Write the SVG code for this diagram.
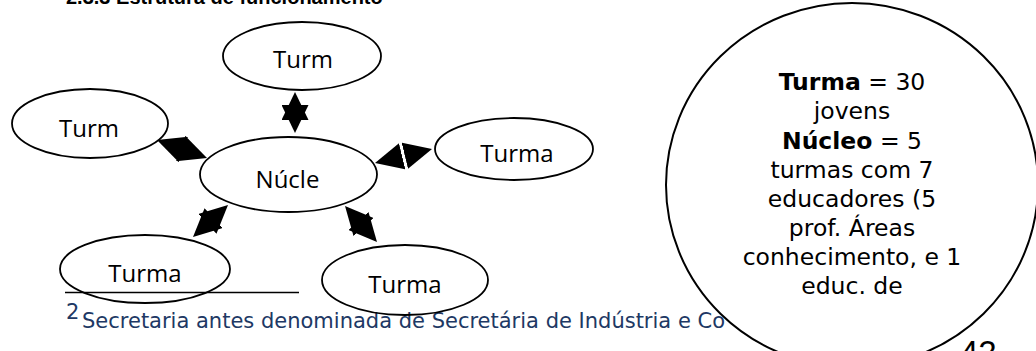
<svg xmlns="http://www.w3.org/2000/svg" width="1036" height="351" viewBox="0 0 1036 351">
  <style>
    .node ellipse { fill: none; stroke: #000; stroke-width: 1.8; }
    .lbl { font-family: "Open Sans", "Noto Sans", sans-serif; font-size: 24px; fill: #000; text-anchor: middle; }
    .conn line { stroke: none; marker-start: url(#ah); marker-end: url(#ah); }
    .info { font-family: "DejaVu Sans", Verdana, sans-serif; font-size: 23.5px; fill: #000; text-anchor: middle; }
    .foot { font-family: "DejaVu Sans", Verdana, sans-serif; font-size: 21px; fill: #203864; }
  </style>
  <defs>
    <marker id="ah" markerUnits="userSpaceOnUse" markerWidth="28" markerHeight="27" viewBox="0 0 28 27" refX="28" refY="13.5" orient="auto-start-reverse">
      <path d="M0,0 L28,13.5 L0,27 Z" fill="#000"/>
    </marker>
  </defs>

  <text x="66" y="4" font-family="Liberation Sans, Arial, sans-serif" font-size="20" font-weight="bold" fill="#000">2.3.3 Estrutura de funcionamento</text>

  <g id="footnote">
    <line x1="65" y1="292.5" x2="299" y2="292.5" stroke="#000" stroke-width="1.6"/>
    <text x="66" y="319" class="foot" font-size="11">2</text>
    <text x="82" y="327.5" class="foot">Secretaria antes denominada de Secretária de Indústria e Co</text>
  </g>

  <g id="connectors" class="conn">
    <line x1="295" y1="92" x2="295" y2="133"/>
    <line x1="157" y1="140" x2="207" y2="158"/>
    <line x1="375" y1="163" x2="432" y2="149"/>
    <line x1="228" y1="205" x2="193" y2="237"/>
    <line x1="345" y1="206" x2="377" y2="242"/>
  </g>

  <g id="turma-top" class="node">
    <ellipse cx="302" cy="56" rx="79" ry="34"/>
    <text class="lbl" x="303" y="68">Turm</text>
  </g>
  <g id="turma-left" class="node">
    <ellipse cx="90" cy="123.5" rx="78" ry="34.5"/>
    <text class="lbl" x="89" y="137">Turm</text>
  </g>
  <g id="nucleo" class="node">
    <ellipse cx="288.5" cy="174.5" rx="88.5" ry="37.5"/>
    <text class="lbl" x="287.5" y="188" font-size="26.5">Núcle</text>
  </g>
  <g id="turma-right" class="node">
    <ellipse cx="514" cy="149" rx="79" ry="31"/>
    <text class="lbl" x="517" y="162">Turma</text>
  </g>
  <g id="turma-bottom-left" class="node">
    <ellipse cx="145" cy="269" rx="85" ry="34"/>
    <text class="lbl" x="145" y="282">Turma</text>
  </g>
  <g id="turma-bottom-right" class="node">
    <ellipse cx="405" cy="280" rx="83" ry="35"/>
    <text class="lbl" x="405" y="293">Turma</text>
  </g>

  <g id="info-circle">
    <ellipse cx="852" cy="185" rx="186" ry="182" fill="#fff" stroke="#000" stroke-width="2"/>
    <text class="info" x="852" y="90"><tspan font-weight="bold">Turma</tspan> = 30</text>
    <text class="info" x="852" y="119.3">jovens</text>
    <text class="info" x="852" y="148.5"><tspan font-weight="bold">Núcleo</tspan> = 5</text>
    <text class="info" x="852" y="177.5">turmas com 7</text>
    <text class="info" x="852" y="206.5">educadores (5</text>
    <text class="info" x="852" y="235.5">prof. Áreas</text>
    <text class="info" x="852" y="265">conhecimento, e 1</text>
    <text class="info" x="852" y="294">educ. de</text>
  </g>

  <text x="960" y="364" font-family="Liberation Sans, Arial, sans-serif" font-size="33" fill="#000">42</text>
</svg>
